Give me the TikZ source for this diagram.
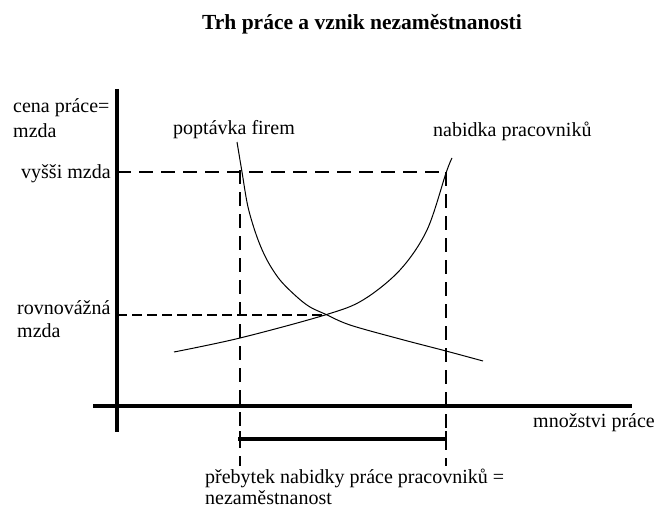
\documentclass[tikz,border=0pt]{standalone}
\usepackage{fontspec}
\setmainfont{Liberation Serif}
\begin{document}
\begin{tikzpicture}[x=1pt,y=-1pt,
  lbl/.style={anchor=base west,inner sep=0pt,font=\fontsize{20}{24}\selectfont},
  ttl/.style={anchor=base,inner sep=0pt,font=\fontsize{21.5}{25}\selectfont\bfseries},
  axisline/.style={line width=4pt},
  barline/.style={line width=3.2pt},
  curve/.style={line width=1pt},
  guideA/.style={line width=1.2pt,dash pattern=on 14pt off 8pt},
  guideB/.style={line width=1.2pt,dash pattern=on 10pt off 5pt}]
\useasboundingbox (0,0) rectangle (658,508);
% title
\node[ttl] (title) at (362,30) {Trh práce a vznik nezaměstnanosti};
% axes
\coordinate (ytop) at (117,89);
\coordinate (ybot) at (117,432);
\coordinate (xleft) at (93,406);
\coordinate (xright) at (632,406);
\draw[axisline] (ytop) -- (ybot);
\draw[axisline] (xleft) -- (xright);
% guides
\coordinate (hiL) at (117,172);
\coordinate (hiR) at (446,172);
\coordinate (eqL) at (117,315);
\coordinate (eqR) at (325,315);
\coordinate (vLt) at (240,170);
\coordinate (vLb) at (240,466);
\coordinate (vRt) at (446,172);
\coordinate (vRb) at (446,466);
\draw[guideA] (hiL) -- (hiR);
\draw[guideB] (eqL) -- (eqR);
\draw[guideA] (vLt) -- (vLb);
\draw[guideA] (vRt) -- (vRb);
% surplus bar
\coordinate (barL) at (238,439);
\coordinate (barR) at (446,439);
\draw[barline] (barL) -- (barR);
\coordinate (tickLt) at (240,431);
\coordinate (tickLb) at (240,447);
\coordinate (tickRt) at (446,431);
\coordinate (tickRb) at (446,447);
\draw[line width=1.2pt] (tickLt) -- (tickLb);
\draw[line width=1.2pt] (tickRt) -- (tickRb);
% demand curve
\draw[curve] plot[smooth,tension=0.55] coordinates
  {(237,142) (242,172) (248,207) (257,237) (267,260) (280,280) (297,297) (310,307) (325,314) (350,325) (400,339) (446,351) (483,361)};
% supply curve
\draw[curve] plot[smooth,tension=0.55] coordinates
  {(174,352) (240,338) (325,315) (363,300) (400,270) (427,230) (446,173) (452,158)};
% labels
\node[lbl] (yl1) at (13,113) {cena práce=};
\node[lbl] (yl2) at (13,138) {mzda};
\node[lbl] (hi) at (21,178) {vyšši mzda};
\node[lbl] (eq1) at (17,314) {rovnovážná};
\node[lbl] (eq2) at (17,337) {mzda};
\node[lbl] (dem) at (173,135) {poptávka firem};
\node[lbl] (sup) at (433,136) {nabidka pracovniků};
\node[lbl] (xl) at (533,427) {množstvi práce};
\node[lbl] (sur1) at (205,483) {přebytek nabidky práce pracovniků =};
\node[lbl] (sur2) at (205,504) {nezaměstnanost};
\end{tikzpicture}
\end{document}
